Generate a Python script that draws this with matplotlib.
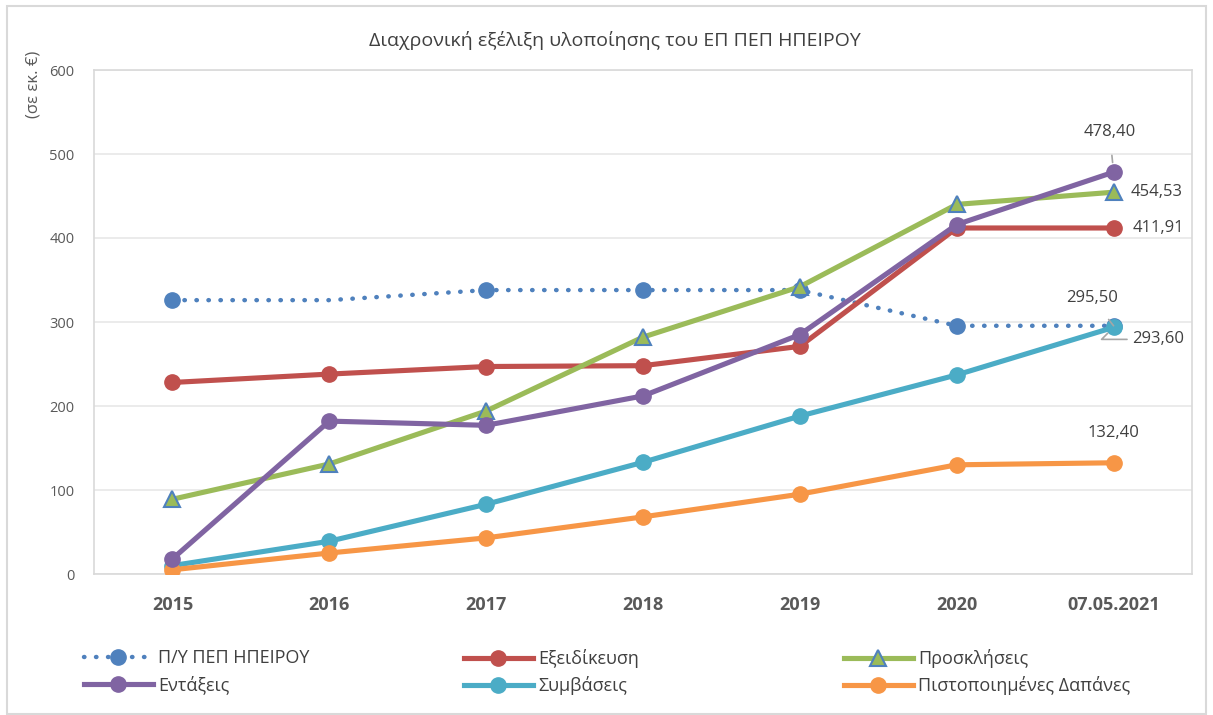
import matplotlib
matplotlib.use("Agg")
import matplotlib.pyplot as plt
from matplotlib.patches import Rectangle

plt.rcParams['font.family'] = ['Open Sans', 'DejaVu Sans']

categories = ["2015", "2016", "2017", "2018", "2019", "2020", "07.05.2021"]
py_pep = [326, 326, 338, 338, 338, 295.5, 295.5]
exeidikeysi = [228, 238, 247, 248, 271, 411.91, 411.91]
proskliseis = [89, 131, 194, 282, 342, 440, 454.53]
entaxeis = [18, 182, 177, 212, 285, 416, 478.40]
symvaseis = [10, 39, 83, 133, 188, 237, 293.60]
pistopoiimenes = [5, 25, 43, 68, 95, 130, 132.40]

names = ["Π/Υ ΠΕΠ ΗΠΕΙΡΟΥ", "Εξειδίκευση", "Προσκλήσεις", "Εντάξεις", "Συμβάσεις", "Πιστοποιημένες Δαπάνες"]

C_BLUE = "#4F81BD"
C_RED = "#C0504D"
C_GREEN = "#9BBB59"
C_PURPLE = "#8064A2"
C_CYAN = "#4BACC6"
C_ORANGE = "#F79646"
TXT = "#404040"

fig = plt.figure(figsize=(12.13, 7.15), dpi=100)
fig.patches.append(Rectangle((0.006, 0.002), 0.988, 0.99, transform=fig.transFigure,
                             fill=False, edgecolor="#D9D9D9", linewidth=1.5))
ax = fig.add_axes([94/1213, 1-574/715, (1192-94)/1213, (574-70)/715])

x = list(range(len(categories)))
lw = 3.7
ms = 11

l_py, = ax.plot(x, py_pep, color=C_BLUE, linewidth=3.2, linestyle=(0, (0.1, 2.6)),
                dash_capstyle='round', marker='o', markersize=ms, markevery=[0, 2, 3, 4, 5, 6],
                label=names[0], zorder=3)
l_ex, = ax.plot(x, exeidikeysi, color=C_RED, linewidth=lw, marker='o', markersize=ms,
                label=names[1], zorder=3)
l_pr, = ax.plot(x, proskliseis, color=C_GREEN, linewidth=lw, marker='^', markersize=ms,
                markerfacecolor=C_GREEN, markeredgecolor=C_BLUE, markeredgewidth=1.5,
                label=names[2], zorder=3)
l_en, = ax.plot(x, entaxeis, color=C_PURPLE, linewidth=lw, marker='o', markersize=ms,
                label=names[3], zorder=4)
l_sy, = ax.plot(x, symvaseis, color=C_CYAN, linewidth=lw, marker='o', markersize=ms,
                label=names[4], zorder=3)
l_pi, = ax.plot(x, pistopoiimenes, color=C_ORANGE, linewidth=lw, marker='o', markersize=ms,
                label=names[5], zorder=3)

ax.set_xlim(-0.5, len(categories) - 0.5)
ax.set_ylim(0, 600)
ax.set_yticks(range(0, 601, 100))
ax.set_xticks(x)
ax.set_xticklabels(categories, fontsize=13, fontweight='bold', color="#595959")
ax.tick_params(axis='x', length=0, pad=16)
ax.tick_params(axis='y', length=0, pad=14, labelsize=10.5, labelcolor="#595959")
ax.grid(axis='y', color="#E8E8E8", linewidth=1.2)
ax.set_axisbelow(True)
for s in ax.spines.values():
    s.set_color("#D9D9D9")
    s.set_linewidth(1.2)

def fmt(v):
    return f"{v:.2f}".replace('.', ',')

last = len(categories) - 1
ann_kw = dict(textcoords='offset pixels', fontsize=12, color=TXT)
ax.annotate(fmt(entaxeis[-1]), xy=(last, entaxeis[-1]), xytext=(-4, 40), ha='center', va='center',
            arrowprops=dict(arrowstyle='-', color="#A6A6A6", lw=1.2, shrinkA=9, shrinkB=7), **ann_kw)
ax.annotate(fmt(proskliseis[-1]), xy=(last, proskliseis[-1]), xytext=(17, 0), ha='left', va='center', **ann_kw)
ax.annotate(fmt(exeidikeysi[-1]), xy=(last, exeidikeysi[-1]), xytext=(19, 0), ha='left', va='center', **ann_kw)
ax.annotate(fmt(py_pep[-1]), xy=(last, py_pep[-1]), xytext=(-22, 28), ha='center', va='center',
            arrowprops=dict(arrowstyle='-', color="#A6A6A6", lw=1.2, shrinkA=10, shrinkB=7), **ann_kw)
ax.annotate(fmt(symvaseis[-1]), xy=(last, symvaseis[-1]), xytext=(19, -12), ha='left', va='center',
            arrowprops=dict(arrowstyle='-', color="#A6A6A6", lw=1.2, shrinkA=2, shrinkB=6,
                            connectionstyle="angle,angleA=0,angleB=45"), **ann_kw)
ax.annotate(fmt(pistopoiimenes[-1]), xy=(last, pistopoiimenes[-1]), xytext=(0, 30), ha='center', va='center', **ann_kw)

fig.text(615/1213, 1-40/715, "Διαχρονική εξέλιξη υλοποίησης του ΕΠ ΠΕΠ ΗΠΕΙΡΟΥ",
         ha='center', va='center', fontsize=14, color=TXT)
fig.text(33/1213, 1-84/715, "(σε εκ. €)", rotation=90, ha='center', va='center',
         fontsize=12, color="#595959")

groups = [([l_py, l_en], 84), ([l_ex, l_sy], 464), ([l_pr, l_pi], 844)]
for hs, xpix in groups:
    leg = fig.legend(hs, [h.get_label() for h in hs], loc='upper left',
                     bbox_to_anchor=(xpix/1213, 1-649/715), frameon=False,
                     fontsize=13, handlelength=3.8, handletextpad=0.3,
                     labelspacing=0.45, borderaxespad=0, borderpad=0)
    for t in leg.get_texts():
        t.set_color(TXT)

fig.savefig("out.png", dpi=100)
